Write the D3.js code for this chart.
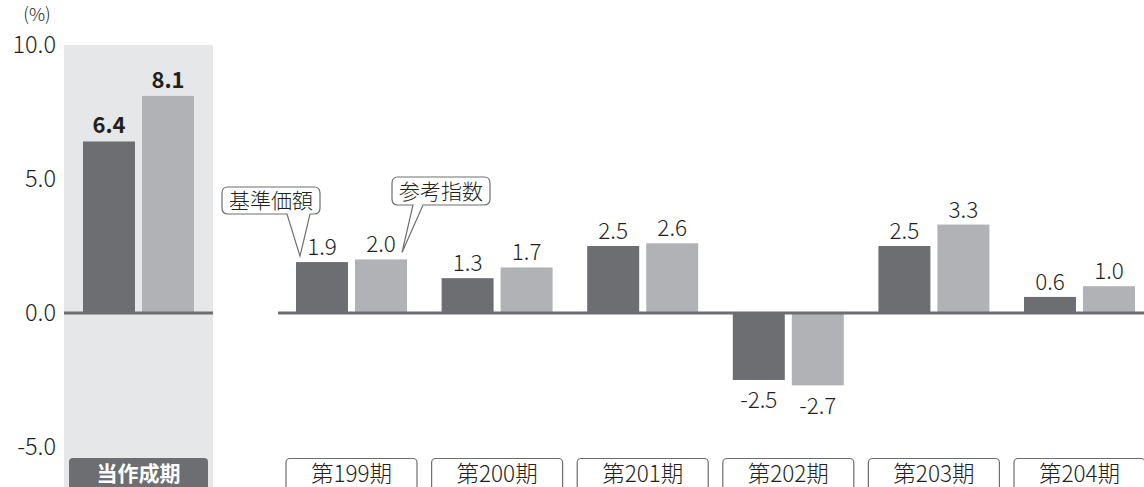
<!DOCTYPE html>
<html>
<head>
<meta charset="utf-8">
<script src="https://cdn.jsdelivr.net/npm/d3@7"></script>
<style>
  body { margin: 0; background: #fff; }
  svg { display: block; font-family: "Noto Sans CJK JP", "Noto Sans", sans-serif; font-weight: 300; }
</style>
</head>
<body>
<script>
// data
const periods = ["第199期", "第200期", "第201期", "第202期", "第203期", "第204期"];
const navValues = [1.9, 1.3, 2.5, -2.5, 2.5, 0.6];     // 基準価額
const refValues = [2.0, 1.7, 2.6, -2.7, 3.3, 1.0];     // 参考指数
const currentLabel = "当作成期";
const currentValues = [6.4, 8.1];
const seriesNames = ["基準価額", "参考指数"];
const yTicks = [-5, 0, 5, 10];

const width = 1144, height = 487;
const darkC = "#6d6e71", lightC = "#b1b2b5", panelC = "#e6e7e8", textC = "#231f20";

const svg = d3.select("body").append("svg")
    .attr("width", width)
    .attr("height", height);

// scales
const y = d3.scaleLinear().domain([-5, 10]).range([447, 45]);
const x = d3.scaleBand().domain(periods).range([278.7, 1152.3]).paddingInner(0.1).paddingOuter(0.05);
const xLeft = d3.scaleBand().domain([currentLabel]).range([64, 213]);
const sub = d3.scaleBand().domain(seriesNames).range([-55.5, 55.5]).paddingInner(0.119).paddingOuter(0);
const color = d3.scaleOrdinal().domain(seriesNames).range([darkC, lightC]);
const bw = sub.bandwidth();

// grey panel for current period
svg.append("rect")
    .attr("x", 64).attr("y", y(10))
    .attr("width", 149).attr("height", height - y(10))
    .attr("fill", panelC);

// y axis labels
svg.append("g").selectAll("text")
    .data(yTicks).enter().append("text")
    .attr("x", 56).attr("y", d => y(d))
    .attr("dy", "0.35em")
    .attr("text-anchor", "end")
    .attr("font-size", 23.5)
    .attr("fill", textC)
    .text(d => d.toFixed(1));

svg.append("text")
    .attr("x", 37).attr("y", 21)
    .attr("text-anchor", "middle")
    .attr("font-size", 18)
    .attr("fill", textC)
    .text("(%)");

// current period bars
const cx = xLeft(currentLabel) + xLeft.bandwidth() / 2;
const curData = seriesNames.map((s, i) => ({s: s, v: currentValues[i]}));
svg.append("g").selectAll("rect")
    .data(curData).enter().append("rect")
    .attr("x", d => cx + sub(d.s))
    .attr("width", bw)
    .attr("y", d => y(Math.max(0, d.v)))
    .attr("height", d => Math.abs(y(d.v) - y(0)))
    .attr("fill", d => color(d.s));

svg.append("g").selectAll("text")
    .data(curData).enter().append("text")
    .attr("x", d => cx + sub(d.s) + bw / 2)
    .attr("y", d => y(d.v) - 8)
    .attr("text-anchor", "middle")
    .attr("font-size", 22)
    .attr("font-weight", "bold")
    .attr("fill", textC)
    .text(d => d.v.toFixed(1));

// period bars
const rows = [];
periods.forEach((p, i) => {
  rows.push({p: p, s: seriesNames[0], v: navValues[i]});
  rows.push({p: p, s: seriesNames[1], v: refValues[i]});
});
const gx = d => x(d.p) + x.bandwidth() / 2 + sub(d.s);

svg.append("g").selectAll("rect")
    .data(rows).enter().append("rect")
    .attr("x", gx)
    .attr("width", bw)
    .attr("y", d => y(Math.max(0, d.v)))
    .attr("height", d => Math.abs(y(d.v) - y(0)))
    .attr("fill", d => color(d.s));

svg.append("g").selectAll("text")
    .data(rows).enter().append("text")
    .attr("x", d => gx(d) + bw / 2)
    .attr("y", d => d.v >= 0 ? y(d.v) - 7 : y(d.v) + 7)
    .attr("dy", d => d.v >= 0 ? 0 : "0.95em")
    .attr("text-anchor", "middle")
    .attr("font-size", 22.5)
    .attr("fill", textC)
    .text(d => d.v.toFixed(1));

// zero lines
svg.append("line")
    .attr("x1", 64).attr("x2", 213)
    .attr("y1", y(0)).attr("y2", y(0))
    .attr("stroke", darkC).attr("stroke-width", 3);
svg.append("line")
    .attr("x1", 278).attr("x2", width)
    .attr("y1", y(0)).attr("y2", y(0))
    .attr("stroke", darkC).attr("stroke-width", 3);

// category labels
svg.append("path")
    .attr("d", "M69,495 V462 Q69,458 73,458 H204 Q208,458 208,462 V495 Z")
    .attr("fill", darkC);
svg.append("text")
    .attr("x", cx).attr("y", 481)
    .attr("text-anchor", "middle")
    .attr("font-size", 21)
    .attr("font-weight", "bold")
    .attr("fill", "#fff")
    .text(currentLabel);

const lab = svg.append("g").selectAll("g")
    .data(periods).enter().append("g")
    .attr("transform", d => "translate(" + (x(d) + x.bandwidth() / 2) + ",0)");
lab.append("rect")
    .attr("x", -65.5).attr("y", 458.5)
    .attr("width", 131).attr("height", 40)
    .attr("rx", 4)
    .attr("fill", "#fff")
    .attr("stroke", darkC).attr("stroke-width", 1.2);
lab.append("text")
    .attr("y", 482)
    .attr("text-anchor", "middle")
    .attr("font-size", 22.5)
    .attr("fill", textC)
    .text(d => d);

// callouts
function callout(x0, y0, x1, y1, tl, tr, tip, label) {
  const r = 6;
  const d = "M" + (x0 + r) + "," + y0 + " H" + (x1 - r) +
    " Q" + x1 + "," + y0 + " " + x1 + "," + (y0 + r) +
    " V" + (y1 - r) + " Q" + x1 + "," + y1 + " " + (x1 - r) + "," + y1 +
    " H" + tr + " L" + tip[0] + "," + tip[1] + " L" + tl + "," + y1 +
    " H" + (x0 + r) + " Q" + x0 + "," + y1 + " " + x0 + "," + (y1 - r) +
    " V" + (y0 + r) + " Q" + x0 + "," + y0 + " " + (x0 + r) + "," + y0 + " Z";
  svg.append("path").attr("d", d)
      .attr("fill", "#fff").attr("stroke", darkC).attr("stroke-width", 1.2);
  svg.append("text")
      .attr("x", (x0 + x1) / 2).attr("y", (y0 + y1) / 2)
      .attr("dy", "0.36em")
      .attr("text-anchor", "middle")
      .attr("font-size", 21)
      .attr("fill", textC)
      .text(label);
}
const r0 = rows[0], r1 = rows[1];
callout(222, 187, 320, 214, 287, 310, [gx(r0) + 4, y(r0.v) - 6], seriesNames[0]);
callout(392, 177, 490, 205, 413, 423, [gx(r1) + bw - 5, y(r1.v) - 7], seriesNames[1]);
</script>
</body>
</html>
